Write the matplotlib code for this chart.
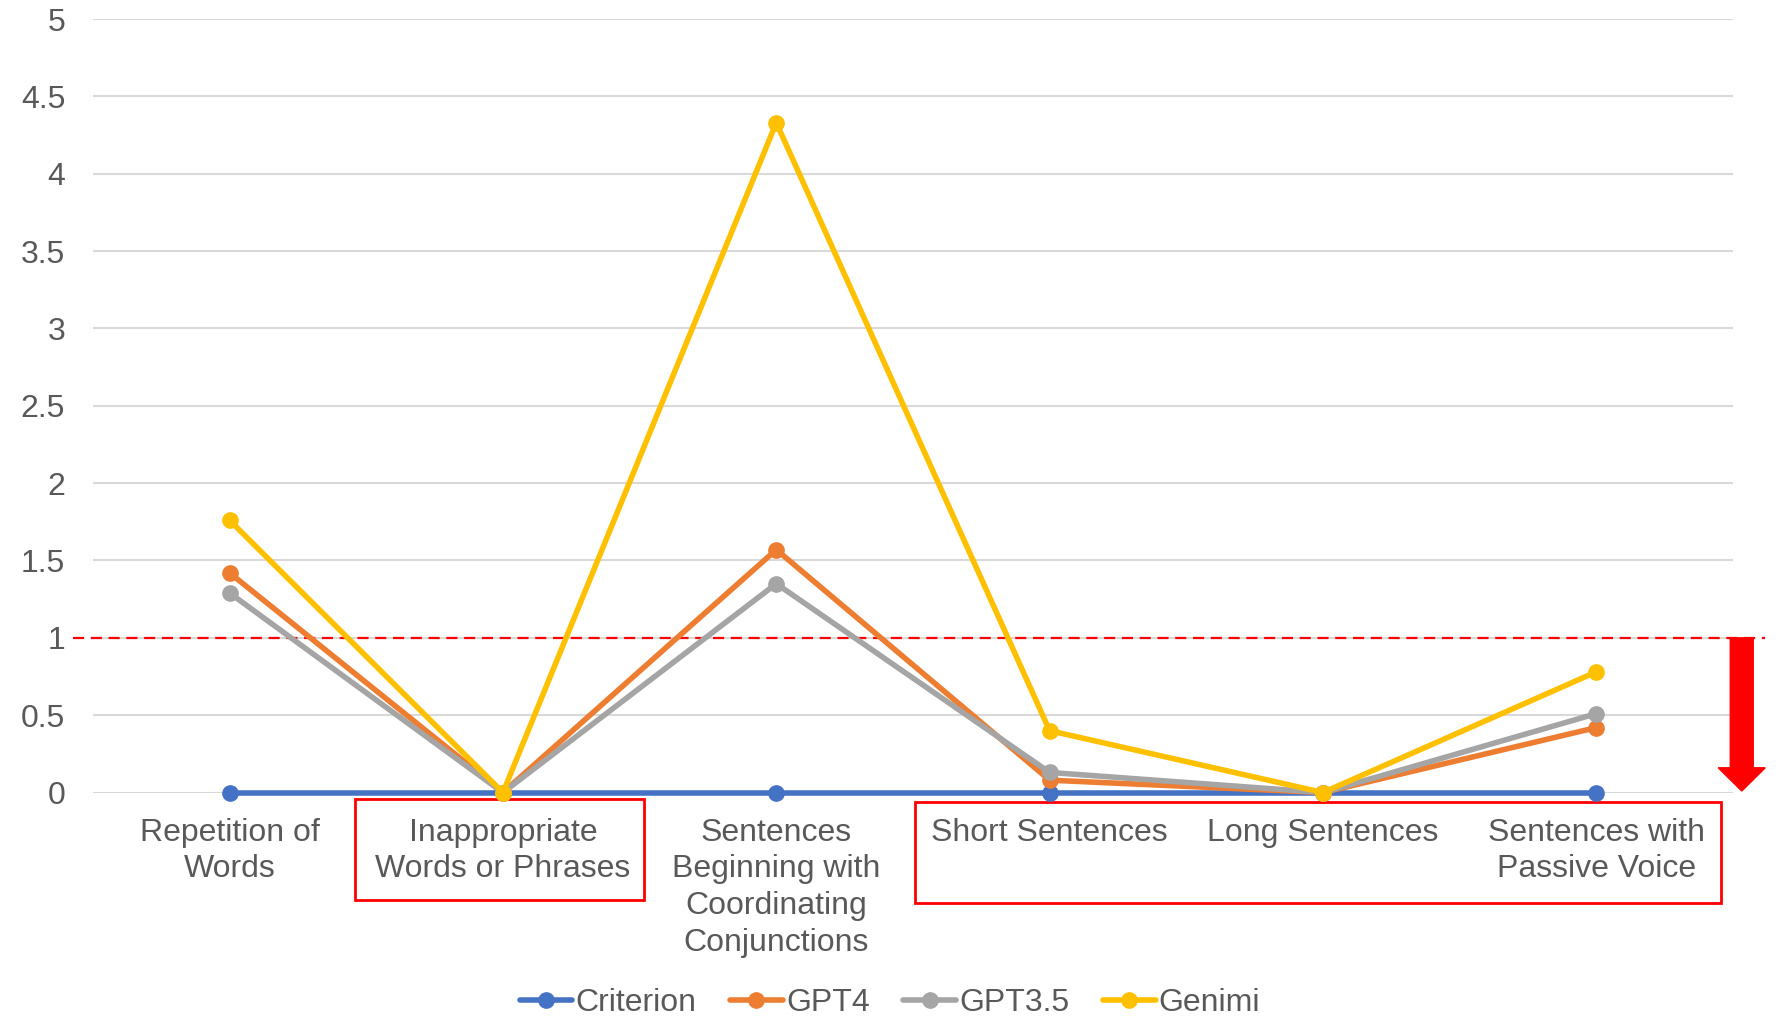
import matplotlib
matplotlib.use("Agg")
import matplotlib.pyplot as plt
from matplotlib.patches import Rectangle, FancyArrow

categories = ["Repetition of\nWords", "Inappropriate\nWords or Phrases",
              "Sentences\nBeginning with\nCoordinating\nConjunctions",
              "Short Sentences", "Long Sentences", "Sentences with\nPassive Voice"]
criterion = [0, 0, 0, 0, 0, 0]
gpt4 = [1.42, 0, 1.57, 0.08, 0, 0.42]
gpt35 = [1.29, 0, 1.35, 0.13, 0, 0.51]
genimi = [1.76, 0, 4.33, 0.40, 0, 0.78]
series_names = ["Criterion", "GPT4", "GPT3.5", "Genimi"]
yticks = [0, 0.5, 1, 1.5, 2, 2.5, 3, 3.5, 4, 4.5, 5]
ytick_labels = ["0", "0.5", "1", "1.5", "2", "2.5", "3", "3.5", "4", "4.5", "5"]
threshold = 1

plt.rcParams['font.family'] = ['Liberation Sans', 'DejaVu Sans']
fig = plt.figure(figsize=(17.8, 10.17), dpi=100)
ax = fig.add_axes([0.0522, 0.2207, 0.9214, 0.7606])

colors = ["#4472C4", "#ED7D31", "#A5A5A5", "#FFC000"]
x = list(range(len(categories)))
for name, vals, c in zip(series_names, [criterion, gpt4, gpt35, genimi], colors):
    ax.plot(x, vals, color=c, lw=4, marker='o', markersize=11, label=name,
            solid_capstyle='round', clip_on=False, zorder=3)

ax.set_xlim(-0.5, 5.5)
ax.set_ylim(0, 5)
ax.set_yticks(yticks)
ax.set_yticklabels(ytick_labels)
ax.set_xticks(x)
ax.set_xticklabels(categories)
ax.yaxis.grid(True, color="#D9D9D9", lw=1.5)
ax.set_axisbelow(True)
for s in ax.spines.values():
    s.set_visible(False)
ax.tick_params(axis='both', length=0, labelsize=23, labelcolor="#595959")
ax.tick_params(axis='y', pad=20)
ax.tick_params(axis='x', pad=18)
for lbl in ax.get_xticklabels():
    lbl.set_linespacing(1.3)

# threshold line
ax.plot([-0.573, 5.618], [threshold, threshold], color="red", lw=1.6,
        linestyle=(0, (5, 3)), clip_on=False, zorder=2)

# red boxes around labels
tr = ax.get_xaxis_transform()
ax.add_patch(Rectangle((0.459, -0.1395), 1.057, 0.1306, transform=tr, fill=False,
                       edgecolor="red", lw=2, clip_on=False))
ax.add_patch(Rectangle((2.508, -0.1427), 2.949, 0.1306, transform=tr, fill=False,
                       edgecolor="red", lw=2, clip_on=False))

# red arrow
ax.add_patch(FancyArrow(5.532, 1.0, 0, -0.99, width=0.084, head_width=0.172,
                        head_length=0.15, length_includes_head=True,
                        color="red", clip_on=False, zorder=4))

leg = fig.legend(loc='center', bbox_to_anchor=(0.5, 0.014), ncol=4, frameon=False,
                 fontsize=23, handlelength=1.65, handletextpad=0.1,
                 columnspacing=1.05)
for t in leg.get_texts():
    t.set_color("#595959")

fig.savefig("out.png", dpi=100)
